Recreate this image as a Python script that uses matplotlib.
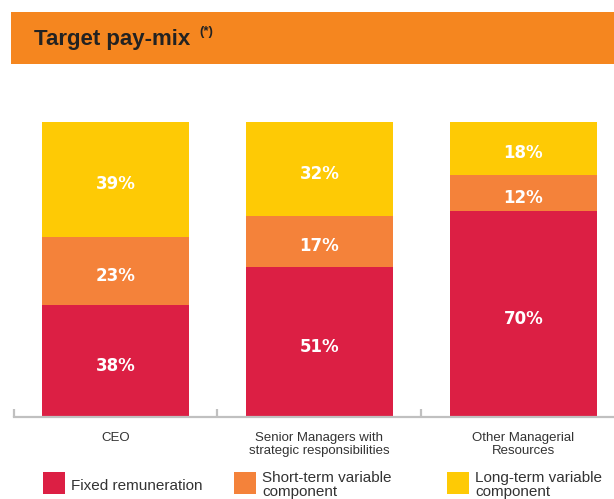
import matplotlib.pyplot as plt
from matplotlib.patches import Rectangle
import numpy as np

categories = ["CEO", "Senior Managers with\nstrategic responsibilities", "Other Managerial\nResources"]
fixed = [38, 51, 70]
short_term = [23, 17, 12]
long_term = [39, 32, 18]
series_names = ["Fixed remuneration", "Short-term variable\ncomponent", "Long-term variable\ncomponent"]

RED = "#DC1F44"
ORANGE = "#F4823A"
YELLOW = "#FECA05"
HEADER = "#F5861F"
W, H = 614, 499

plt.rcParams["font.family"] = ["Liberation Sans", "DejaVu Sans"]

fig = plt.figure(figsize=(W / 100, H / 100), dpi=100)

# header band
fig.patches.append(Rectangle((11 / W, 1 - 64 / H), 1, 52 / H, transform=fig.transFigure,
                             facecolor=HEADER, edgecolor="none"))
fig.text(34 / W, 1 - 39 / H, "Target pay-mix", fontsize=16, fontweight="bold",
         color="#222222", va="center")
fig.text(199 / W, 1 - 32 / H, "(*)", fontsize=9.5, fontweight="bold",
         color="#222222", va="center")

# chart axes: x from px 13.5 to 625.5, y 0 at px 417, 100 at px 122
ax = fig.add_axes([13.5 / W, 1 - 417 / H, 612 / W, 295 / H])
x = np.arange(len(categories))
bw = 0.72
b1 = ax.bar(x, fixed, bw, color=RED)
b2 = ax.bar(x, short_term, bw, bottom=fixed, color=ORANGE)
b3 = ax.bar(x, long_term, bw, bottom=np.add(fixed, short_term), color=YELLOW)
for bars, vals in [(b1, fixed), (b2, short_term), (b3, long_term)]:
    for r, v in zip(bars, vals):
        ax.text(r.get_x() + r.get_width() / 2, r.get_y() + r.get_height() / 2 - 1.0, f"{v}%",
                ha="center", va="center_baseline", color="white", fontsize=12, fontweight="bold",
                family=["DejaVu Sans"])

ax.set_xlim(-0.5, 2.5)
ax.set_ylim(0, 100)
for s in ["top", "right", "left"]:
    ax.spines[s].set_visible(False)
ax.spines["bottom"].set_color("#c0c0c0")
ax.spines["bottom"].set_linewidth(1.6)
ax.set_yticks([])
ax.set_xticks(x)
ax.set_xticklabels(categories, fontsize=9.5, color="#333333", linespacing=1.1, va="top")
ax.tick_params(axis="x", which="major", length=0, pad=11)
ax.set_xticks([-0.5, 0.5, 1.5, 2.5], minor=True)
ax.tick_params(axis="x", which="minor", direction="in", length=6, width=1.6, color="#c0c0c0")

# legend
for i, (name, col) in enumerate(zip(series_names, [RED, ORANGE, YELLOW])):
    x0 = [43, 234, 447][i]
    fig.patches.append(Rectangle((x0 / W, 1 - 494 / H), 22 / W, 22 / H, transform=fig.transFigure,
                                 facecolor=col, edgecolor="none"))
    fig.text((x0 + 28) / W, 1 - (486 if i == 0 else 485) / H, name, fontsize=11, color="#333333",
             va="center", linespacing=1.05)

fig.savefig("out.png", dpi=100)
